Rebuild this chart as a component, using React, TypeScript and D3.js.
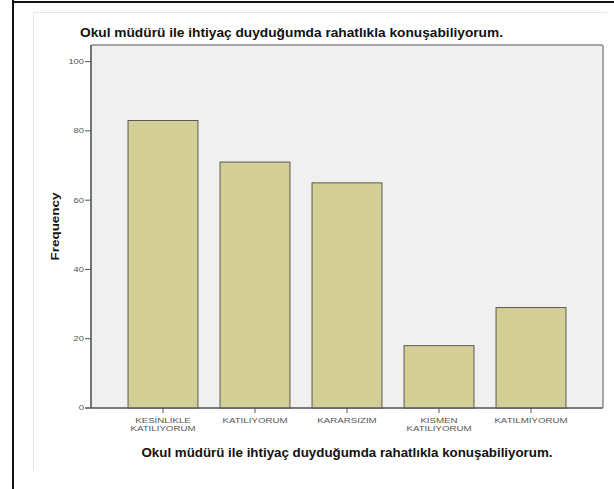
import React from 'react';
import * as d3 from 'd3';

const title = 'Okul müdürü ile ihtiyaç duyduğumda rahatlıkla konuşabiliyorum.';
const categories = ['KESİNLİKLE KATILIYORUM', 'KATILIYORUM', 'KARARSIZIM', 'KISMEN KATILIYORUM', 'KATILMIYORUM'];
const counts = [83, 71, 65, 18, 29];
const yTicks = [0, 20, 40, 60, 80, 100];

const W = 614;
const H = 489;
const plot = { left: 91, right: 603, top: 45, bottom: 408 };

const App: React.FC = () => {
  // y range: 0 -> 408, 100 -> ~61.5, frame top sits a bit above 100
  const y = d3.scaleLinear().domain([0, 104.8]).range([plot.bottom, plot.top]);
  const x = d3
    .scaleBand<string>()
    .domain(categories)
    .range([plot.left, plot.right])
    .paddingInner(0.24)
    .paddingOuter(0.4025);

  const bw = x.bandwidth();

  return (
    <svg
      width={W}
      height={H}
      style={{ position: 'absolute', left: 0, top: 0, background: '#fff' }}
      fontFamily="'Liberation Sans', Arial, sans-serif"
    >
      {/* outer black border (left + top only, image is cropped) */}
      <line x1={13} y1={0} x2={13} y2={H} stroke="#111" strokeWidth={2} />
      <line x1={12} y1={2} x2={W} y2={2} stroke="#111" strokeWidth={2} />
      {/* faint chart frame */}
      <line x1={33.5} y1={12.5} x2={33.5} y2={470} stroke="#e6e6e6" strokeWidth={1} />
      <line x1={33.5} y1={12.5} x2={607} y2={12.5} stroke="#e6e6e6" strokeWidth={1} />

      <text x={80} y={37} fontSize={13} fontWeight="bold" fill="#111" textLength={423} lengthAdjust="spacingAndGlyphs">
        {title}
      </text>

      {/* plot area */}
      <rect
        x={plot.left}
        y={plot.top}
        width={plot.right - plot.left}
        height={plot.bottom - plot.top}
        fill="#f0f0f0"
        stroke="#8a8a8a"
        strokeWidth={1.5}
        rx={1.5}
      />

      {categories.map((c, i) => (
        <rect
          key={c}
          x={x(c)}
          y={y(counts[i])}
          width={bw}
          height={plot.bottom - y(counts[i])}
          fill="#d3cf97"
          stroke="#5a5a50"
          strokeWidth={1}
        />
      ))}

      {/* axes */}
      <line x1={plot.left} y1={plot.top} x2={plot.left} y2={plot.bottom} stroke="#555" strokeWidth={1.2} />
      <line x1={plot.left - 6} y1={plot.bottom} x2={plot.right} y2={plot.bottom} stroke="#555" strokeWidth={1.2} />

      {yTicks.map((t) => (
        <g key={t} transform={`translate(0,${y(t)})`}>
          <line x1={plot.left - 6} x2={plot.left} stroke="#555" strokeWidth={1} />
          <g transform={`translate(${plot.left - 7},0) scale(1.25,1)`}>
            <text dy="0.33em" textAnchor="end" fontSize={7.5} fill="#555">
              {t}
            </text>
          </g>
        </g>
      ))}

      {categories.map((c) => {
        const cx = (x(c) ?? 0) + bw / 2;
        const lines = c.split(' ');
        return (
          <g key={c}>
            <line x1={cx} x2={cx} y1={plot.bottom} y2={plot.bottom + 5} stroke="#555" strokeWidth={1} />
            {lines.map((l, j) => (
              <g key={j} transform={`translate(${cx},${plot.bottom + 15 + j * 8}) scale(1.35,1)`}>
                <text textAnchor="middle" fontSize={7.2} fill="#555">
                  {l}
                </text>
              </g>
            ))}
          </g>
        );
      })}

      <text
        transform={`translate(59,${(plot.top + plot.bottom) / 2}) rotate(-90)`}
        textAnchor="middle"
        fontSize={11.5}
        fontWeight="bold"
        fill="#111"
        textLength={68}
        lengthAdjust="spacingAndGlyphs"
      >
        Frequency
      </text>

      <text
        x={(plot.left + plot.right) / 2}
        y={457}
        textAnchor="middle"
        fontSize={12.5}
        fontWeight="bold"
        fill="#111"
        textLength={411}
        lengthAdjust="spacingAndGlyphs"
      >
        {title}
      </text>
    </svg>
  );
};

export default App;
